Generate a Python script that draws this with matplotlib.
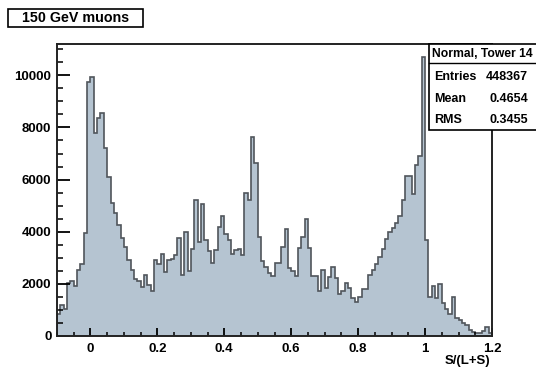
import numpy as np
import matplotlib
matplotlib.use('Agg')
import matplotlib.pyplot as plt
import matplotlib.ticker as ticker
from matplotlib.patches import Rectangle

plt.rcParams['font.family'] = ['Liberation Sans', 'DejaVu Sans']
plt.rcParams['font.weight'] = 'bold'

# histogram S/(L+S), 130 bins from -0.1 to 1.2 (counts)
x_lo = -0.1
x_hi = 1.2
counts = [850, 1200, 1050, 2050, 2100, 1900, 2550, 2750, 3950, 9750,
          9950, 7800, 8350, 8550, 7200, 6100, 5100, 4700, 4250, 3740,
          3420, 2910, 2530, 2170, 2100, 1890, 2340, 1950, 1730, 2910,
          2750, 3150, 2450, 2900, 2950, 3100, 3750, 2350, 4000, 2500,
          3350, 5200, 3600, 5050, 3700, 3250, 2800, 3300, 4200, 4600,
          3900, 3680, 3150, 3300, 3320, 3100, 5500, 5220, 7650, 6650,
          3800, 2870, 2660, 2430, 2320, 2800, 2800, 3420, 4120, 2600,
          2500, 2320, 3380, 3800, 4500, 3370, 2300, 2300, 1740, 2530,
          1860, 2270, 2630, 2210, 1600, 1720, 2020, 1830, 1450, 1320,
          1490, 1790, 1790, 2340, 2520, 2780, 3020, 3350, 3720, 3980,
          4140, 4350, 4600, 5200, 6150, 6150, 5450, 6550, 6900, 10700,
          3680, 1500, 1900, 1450, 2000, 1250, 1050, 840, 1480, 680,
          610, 490, 420, 230, 170, 130, 130, 200, 330, 100]

title = '150 GeV muons'
stat_name = 'Normal, Tower 14'
stat_rows = [('Entries', '448367'), ('Mean', '0.4654'), ('RMS', '0.3455')]
xlabel = 'S/(L+S)'

edges = np.linspace(x_lo, x_hi, len(counts) + 1)

fig = plt.figure(figsize=(5.36, 3.73), dpi=100)
W, H = 536.0, 373.0
ax = fig.add_axes([57 / W, 1 - 336 / H, (492 - 57) / W, (336 - 44) / H])

ax.stairs(counts, edges, fill=True, color='#b5c4d1', baseline=0)
ax.stairs(counts, edges, color='#50555b', linewidth=1.2, baseline=0)

ax.set_xlim(x_lo, x_hi)
ax.set_ylim(0, 11200)

ax.xaxis.set_major_locator(ticker.MultipleLocator(0.2))
ax.xaxis.set_minor_locator(ticker.MultipleLocator(0.05))
ax.yaxis.set_major_locator(ticker.MultipleLocator(2000))
ax.yaxis.set_minor_locator(ticker.MultipleLocator(500))
ax.xaxis.set_major_formatter(ticker.FuncFormatter(lambda v, p: '%g' % round(v, 2)))

ax.tick_params(axis='x', which='major', direction='in', length=6, width=1.3, labelsize=9.5, pad=5)
ax.tick_params(axis='x', which='minor', direction='in', length=3, width=1.1)
ax.tick_params(axis='y', which='major', direction='in', length=9, width=1.3, labelsize=9.5, pad=4)
ax.tick_params(axis='y', which='minor', direction='in', length=4.5, width=1.1)
for lab in ax.get_xticklabels() + ax.get_yticklabels():
    lab.set_fontweight('bold')

for s in ax.spines.values():
    s.set_linewidth(1.4)
    s.set_color('#222222')

fig.text(490 / W, 1 - 361 / H, xlabel, ha='right', va='center', fontsize=9.5, fontweight='bold')

# title box
fig.patches.append(Rectangle((8 / W, 1 - 27 / H), 135 / W, 18 / H, transform=fig.transFigure,
                             facecolor='white', edgecolor='black', linewidth=1.2))
fig.text(76 / W, 1 - 18 / H, title, ha='center', va='center', fontsize=10.3, fontweight='bold')

# stats box
bx0, by0, by1 = 429, 44, 130
fig.patches.append(Rectangle((bx0 / W, 1 - by1 / H), (540 - bx0) / W, (by1 - by0) / H,
                             transform=fig.transFigure, facecolor='white',
                             edgecolor='black', linewidth=1.2, zorder=5))
fig.lines.append(plt.Line2D([bx0 / W, 1], [1 - 63 / H, 1 - 63 / H], transform=fig.transFigure,
                            color='black', linewidth=1.0, zorder=6))
fig.text(432 / W, 1 - 54 / H, stat_name, ha='left', va='center', fontsize=8.7, fontweight='bold', zorder=7)
for k, (nm, val) in enumerate(stat_rows):
    yy = 1 - (77 + k * 21.5) / H
    fig.text(434 / W, yy, nm, ha='left', va='center', fontsize=9, fontweight='bold', zorder=7)
    fig.text(528 / W, yy, val, ha='right', va='center', fontsize=9, fontweight='bold', zorder=7)

fig.savefig('out.png', dpi=100)
